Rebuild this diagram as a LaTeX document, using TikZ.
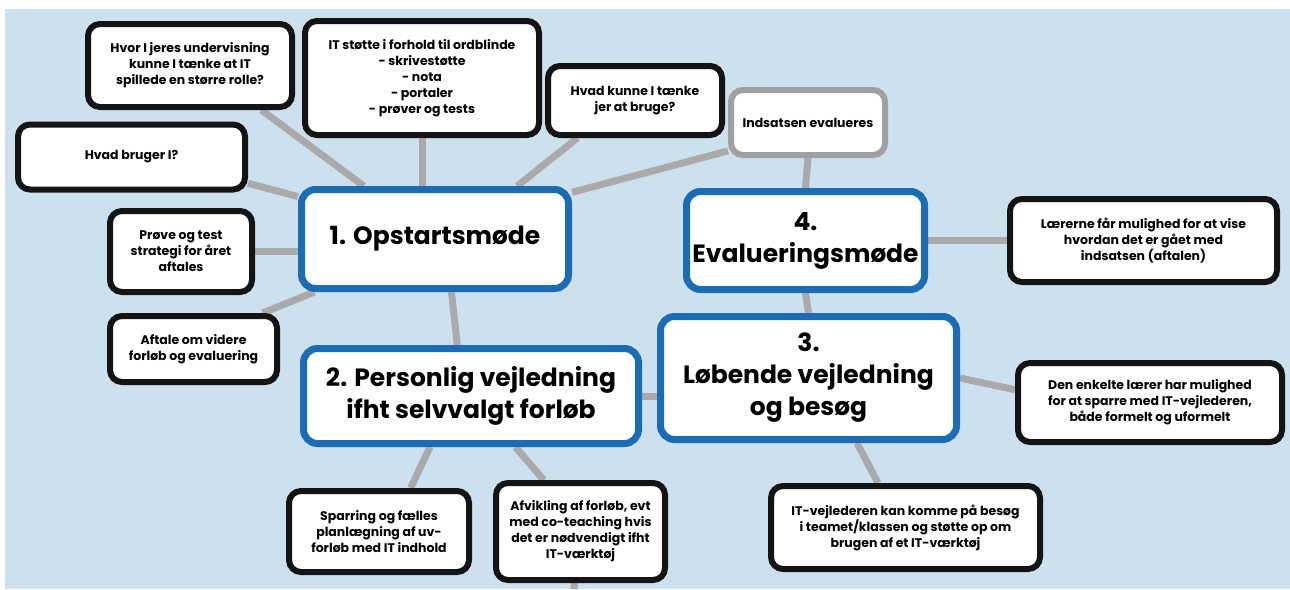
\documentclass[tikz,border=0pt]{standalone}
\usepackage{fontspec}
\setmainfont{Poppins}
\usepackage{tikz}
\usetikzlibrary{calc}
\usetikzlibrary{backgrounds}
\definecolor{skyblue}{RGB}{205,224,238}
\definecolor{boxblue}{RGB}{27,108,178}
\definecolor{linegrey}{RGB}{170,170,172}
\definecolor{framegrey}{RGB}{160,160,160}
\tikzset{
	note/.style={draw=black!92, line width=6pt, rounded corners=12pt, fill=white, align=center, inner sep=0pt, font=\fontsize{12.5}{16}\selectfont\bfseries},
	phase/.style={draw=boxblue, line width=7pt, rounded corners=14pt, fill=white, align=center, inner sep=0pt, font=\fontsize{25}{32}\selectfont\bfseries},
	link/.style={draw=linegrey, line width=7pt},
}

\begin{document}
\begin{tikzpicture}[x=1pt, y=-1pt]
	\useasboundingbox (0,0) rectangle (1290,589);
	\node [note, minimum width=204pt, minimum height=83pt] (jeres) at (190,65.5) {Hvor I jeres undervisning\\kunne I tænke at IT\\spillede en større rolle?};
	\node [note, minimum width=234pt, minimum height=114pt] (ordblinde) at (422,78) {IT støtte i forhold til ordblinde\\- skrivestøtte\\- nota\\- portaler\\- prøver og tests};
	\node [note, minimum width=174pt, minimum height=69pt] (tanke) at (635,100.5) {Hvad kunne I tænke\\jer at bruge?};
	\node [note, draw=framegrey, minimum width=154pt, minimum height=65pt] (evalueres) at (808,122.5) {Indsatsen evalueres};
	\node [note, minimum width=227pt, minimum height=65pt] (bruger) at (131.5,157) {Hvad bruger I?};
	\node [note, minimum width=142pt, minimum height=81pt] (strategi) at (181,251.5) {Prøve og test\\strategi for året\\aftales};
	\node [note, minimum width=167pt, minimum height=66pt] (aftale) at (193.5,349) {Aftale om videre\\forløb og evaluering};
	\node [phase, minimum width=267pt, minimum height=99pt] (op) at (435,239) {1. Opstartsmøde};
	\node [phase, minimum width=335pt, minimum height=95pt] (pv) at (471,396) {2. Personlig vejledning\\ifht selvvalgt forløb};
	\node [phase, minimum width=238pt, minimum height=98pt] (ev) at (805.5,240.5) {4.\\Evalueringsmøde};
	\node [phase, minimum width=296pt, minimum height=123pt] (lb) at (808.5,378) {3.\\Løbende vejledning\\og besøg};
	\node [note, minimum width=267pt, minimum height=83pt] (vise) at (1143.5,240.5) {Lærerne får mulighed for at vise\\hvordan det er gået med\\indsatsen (aftalen)};
	\node [note, minimum width=264pt, minimum height=79pt] (sparre) at (1150,402.5) {Den enkelte lærer har mulighed\\for at sparre med IT-vejlederen,\\både formelt og uformelt};
	\node [note, minimum width=269pt, minimum height=83pt] (besog) at (905.5,527.5) {IT-vejlederen kan komme på besøg\\i teamet/klassen og støtte op om\\brugen af et IT-værktøj};
	\node [note, minimum width=180pt, minimum height=81pt] (sparring) at (379,531.5) {Sparring og fælles\\planlægning af uv-\\forløb med IT indhold};
	\node [note, minimum width=169pt, minimum height=97pt] (afvikling) at (580.5,531.5) {Afvikling af forløb, evt\\med co-teaching hvis\\det er nødvendigt ifht\\IT-værktøj};
	\coordinate (stub) at (574,589);
	\begin{scope}[on background layer]
		\fill [skyblue] (5,9) rectangle (1290,589);
		\draw [link] ($(jeres.south west)!0.84!(jeres.south east)$) -- ($(op.north west)!0.24!(op.north east)$);
		\draw [link] (ordblinde.south) -- (ordblinde.south |- op.north);
		\draw [link] ($(tanke.south west)!0.18!(tanke.south east)$) -- ($(op.north west)!0.8!(op.north east)$);
		\draw [link] ($(evalueres.north west)!0.9!(evalueres.south west)$) -- ($(op.north east)!0.06!(op.south east)$);
		\draw [link] (evalueres.south) -- (ev.north);
		\draw [link] ($(bruger.north east)!0.87!(bruger.south east)$) -- ($(op.north west)!0.1!(op.south west)$);
		\draw [link] (strategi.east) -- (strategi.east -| op.west);
		\draw [link] ($(aftale.north west)!0.9!(aftale.north east)$) -- ($(op.south west)!0.06!(op.south east)$);
		\draw [link] ($(op.south west)!0.56!(op.south east)$) -- ($(pv.north west)!0.46!(pv.north east)$);
		\draw [link] (pv.east) -- (pv.east -| lb.west);
		\draw [link] ($(pv.south west)!0.38!(pv.south east)$) -- ($(sparring.north west)!0.67!(sparring.north east)$);
		\draw [link] ($(pv.south west)!0.63!(pv.south east)$) -- ($(afvikling.north west)!0.29!(afvikling.north east)$);
		\draw [link] ($(afvikling.south)+(-6,0)$) -- (stub);
		\draw [link] (ev.south) -- (lb.north);
		\draw [link] (ev.east) -- (vise.west);
		\draw [link] (lb.east) -- ($(sparre.north west)!0.35!(sparre.south west)$);
		\draw [link] ($(lb.south west)!0.66!(lb.south east)$) -- ($(besog.north west)!0.4!(besog.north east)$);
	\end{scope}
\end{tikzpicture}
\end{document}
